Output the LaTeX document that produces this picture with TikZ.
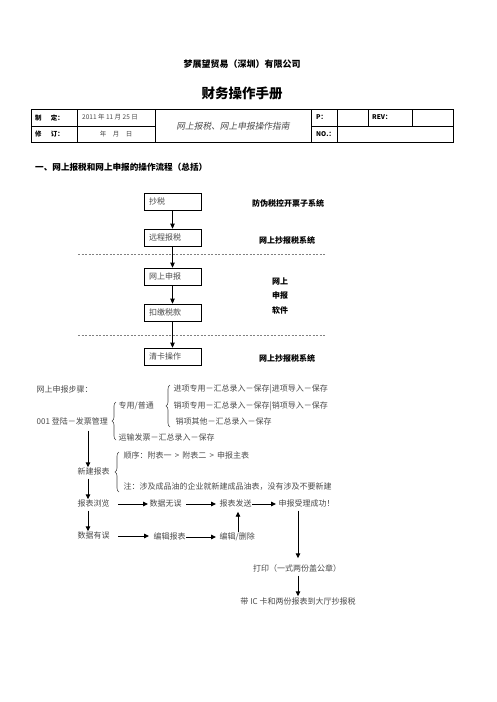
\documentclass[tikz,border=0pt]{standalone}
\usepackage{fontspec}
\setmainfont{Noto Sans CJK SC}
\newfontfamily\cjkit[FakeSlant=0.2]{Noto Sans CJK SC}
\usetikzlibrary{arrows.meta,decorations.pathreplacing}
\definecolor{txt}{HTML}{4A4A4A}
\definecolor{dashgray}{HTML}{808080}
\begin{document}
\begin{tikzpicture}[x=1pt,y=-1pt,
  stepbox/.style={draw, line width=0.7pt, minimum width=57pt, minimum height=17pt,
    inner xsep=5pt, inner ysep=0pt, text width=47pt, align=left, text=txt,
    font=\fontsize{8}{9}\selectfont},
  syslabel/.style={font=\fontsize{8}{10}\selectfont\bfseries, align=center},
  arr/.style={line width=0.9pt, -{Triangle[length=5pt,width=4.5pt]}},
  gt/.style={text=txt, font=\fontsize{8}{8}\selectfont, inner sep=0.5pt,
    text height=6.5pt, text depth=1.5pt},
  lt/.style={gt, anchor=west},
  brc/.style={decorate, decoration={brace, amplitude=4pt}, line width=0.6pt, draw=txt},
  tline/.style={line width=0.8pt},
  tcell/.style={font=\fontsize{6.5}{7}\selectfont\bfseries, anchor=west, inner sep=0pt},
  tgray/.style={font=\fontsize{6.5}{7}\selectfont, text=txt, inner sep=0pt},
  dline/.style={draw=dashgray, line width=0.5pt, dash pattern=on 2pt off 1.5pt}
]
\useasboundingbox (0,0) rectangle (496,702);
\fill[white] (0,0) rectangle (496,702);

% headings
\node[font=\fontsize{9}{9}\selectfont\bfseries] (company) at (242,64) {梦展望贸易（深圳）有限公司};
\node[font=\fontsize{13.5}{14}\selectfont\bfseries] (title) at (242,93) {财务操作手册};

% table
\draw[tline] (31,109) rectangle (453,142);
\draw[tline] (31,126) -- (155,126);
\draw[tline] (311,126) -- (453,126);
\foreach \x in {77,155,311,337} \draw[tline] (\x,109) -- (\x,142);
\foreach \x in {368,412} \draw[tline] (\x,109) -- (\x,126);
\node[tcell] (zd) at (35,117.5) {制\hspace{1.4em}定：};
\node[tcell] (xd) at (35,134) {修\hspace{1.4em}订：};
\node[tgray, anchor=west] (date) at (82,117.5) {2011 年 11 月 25 日};
\node[tgray] (date2) at (116,134) {年\hspace{1em}月\hspace{1em}日};
\node[font=\fontsize{8.7}{9}\selectfont\cjkit, text=txt] (guide) at (233,126) {网上报税、网上申报操作指南};
\node[tcell] (pp) at (316,117.5) {P：};
\node[tcell] (rev) at (372,117.5) {REV：};
\node[tcell] (no) at (316,134) {NO.：};

\node[font=\fontsize{8.6}{9}\selectfont\bfseries, anchor=west, inner sep=0pt] (sec) at (35,167) {一、网上报税和网上申报的操作流程（总括）};

% flow boxes
\node[stepbox] (b1) at (172.5,201.5) {抄税};
\node[stepbox] (b2) at (172.5,237.5) {远程报税};
\node[stepbox] (b3) at (172.5,276.5) {网上申报};
\node[stepbox] (b4) at (172.5,312.5) {扣缴税款};
\node[stepbox] (b5) at (172.5,356.5) {清卡操作};
\draw[arr] (b1) -- (b2);
\draw[arr] (b2) -- (b3);
\draw[arr] (b3) -- (b4);
\draw[arr] (b4) -- (b5);

\coordinate (d1a) at (78,254); \coordinate (d1b) at (325,254);
\coordinate (d2a) at (78,335); \coordinate (d2b) at (325,335);
\draw[dline] (d1a) -- (d1b);
\draw[dline] (d2a) -- (d2b);

\node[syslabel] (s1) at (288,203) {防伪税控开票子系统};
\node[syslabel] (s2) at (287,240) {网上抄报税系统};
\node[syslabel, font=\fontsize{8}{14.5}\selectfont\bfseries] (s3) at (280,296) {网上\\申报\\软件};
\node[syslabel] (s4) at (287,358) {网上抄报税系统};

% steps
\node[lt] (steps) at (36,390) {网上申报步骤：};
\node[lt] (in1) at (173,389) {进项专用－汇总录入－保存|进项导入－保存};
\node[lt] (zy) at (118,406) {专用/普通};
\node[lt] (out1) at (173,406) {销项专用－汇总录入－保存|销项导入－保存};
\node[lt] (out2) at (175,422) {销项其他－汇总录入－保存};
\node[lt] (n001) at (36,422) {001 登陆－发票管理};
\node[lt] (ys) at (118,438) {运输发票－汇总录入－保存};
\node[lt] (seq) at (123,456) {顺序：附表一 \,>\, 附表二 \,>\, 申报主表};
\node[lt] (new) at (77,472) {新建报表};
\node[lt] (note) at (123,487) {注：涉及成品油的企业就新建成品油表，没有涉及不要新建};
\node[lt] (browse) at (77,504) {报表浏览};
\node[lt] (ok) at (149,504) {数据无误};
\node[lt] (send) at (219,504) {报表发送};
\node[lt] (succ) at (278,504) {申报受理成功！};
\node[lt] (err) at (77,536) {数据有误};
\node[lt] (edit) at (153,537) {编辑报表};
\node[lt] (del) at (219,537) {编辑/删除};
\node[gt] (print) at (297,569) {打印（一式两份盖公章）};
\node[gt] (ic) at (298,602) {带 IC 卡和两份报表到大厅抄报税};

% braces
\draw[brc] (170,427) -- (170,385);
\draw[brc] (116,440) -- (116,402);
\draw[brc] (119,492) -- (119,452);

% arrows
\coordinate (ax) at (88,0);
\coordinate (dx) at (238,0);
\coordinate (px) at (298,0);
\draw[arr, shorten <=4pt] (n001.south -| ax) -- (new.north -| ax);
\draw[arr, shorten <=2pt] (new.south -| ax) -- (browse.north -| ax);
\draw[arr, shorten <=2pt] (browse.south -| ax) -- (err.north -| ax);
\draw[arr, shorten <=8pt, shorten >=1pt] (browse.east) -- (ok.west);
\draw[arr, shorten <=4pt, shorten >=3pt] (ok.east) -- (send.west);
\draw[arr, shorten >=2pt] (send.east) -- (succ.west);
\draw[arr, shorten <=8pt, shorten >=4pt] (err.east) -- (edit.west |- err.east);
\draw[arr, shorten >=3pt] (edit.east) -- (del.west);
\draw[arr, shorten >=3pt] (del.north -| dx) -- (send.south -| dx);
\draw[arr, shorten <=2pt, shorten >=6pt] (succ.south -| px) -- (print.north -| px);
\draw[arr, shorten <=2pt, shorten >=1pt] (print.south -| px) -- (ic.north -| px);
\end{tikzpicture}
\end{document}
